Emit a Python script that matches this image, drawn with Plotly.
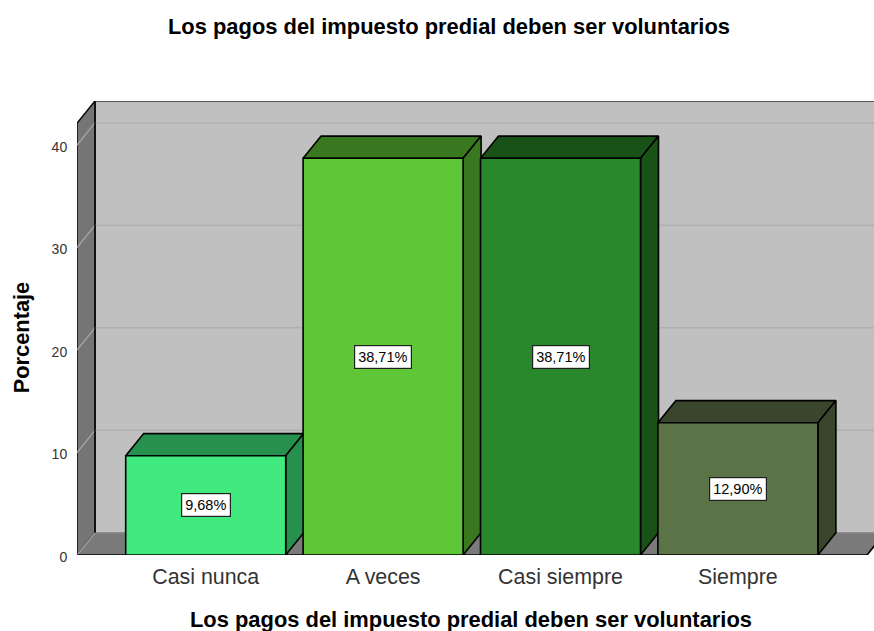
import plotly.graph_objects as go

categories = ["Casi nunca", "A veces", "Casi siempre", "Siempre"]
values = [9.68, 38.71, 38.71, 12.90]
labels = ["9,68%", "38,71%", "38,71%", "12,90%"]
y_ticks = [0, 10, 20, 30, 40]
front_colors = ["#40EA7E", "#5FC637", "#2A882C", "#5C7347"]
dark_colors = ["#26904F", "#3A7820", "#195216", "#39462C"]

TITLE = "Los pagos del impuesto predial deben ser voluntarios"
FONT = "Liberation Sans, Arial, sans-serif"

# plot geometry (canvas pixels -> axis units)
W, H = 874, 631
L, R, T, B = 77, 874, 100.5, 555
PX_X = 177.4          # pixels per category
PX_Y = 10.26          # pixels per percent
X0 = 205.7            # pixel of first category centre
dx = 18 / PX_X        # oblique depth
dy = 22.2 / PX_Y
hw = 80 / PX_X        # half bar width
xmin = (L - X0) / PX_X
xmax = (R - X0) / PX_X
xfront = (867 - X0) / PX_X
ymax = (B - T) / PX_Y
ytop_front = ymax - dy

fig = go.Figure()


def poly(xs, ys, fill, line="#000000", width=1.6):
    fig.add_trace(go.Scatter(
        x=xs + xs[:1], y=ys + ys[:1], mode="lines", fill="toself",
        fillcolor=fill, line=dict(color=line, width=width), cliponaxis=False,
        hoverinfo="skip", showlegend=False))


def seg(xs, ys, color, width=1.5):
    fig.add_trace(go.Scatter(
        x=xs, y=ys, mode="lines", line=dict(color=color, width=width),
        cliponaxis=False, hoverinfo="skip", showlegend=False))


# back wall, side wall, floor
poly([xmin + dx, xfront + dx, xfront + dx, xmin + dx],
     [dy, dy, ymax, ymax], "#C0C0C0", "#303030")
poly([xmin, xmin + dx, xmin + dx, xmin],
     [0, dy, ymax, ytop_front], "#757575", "#101010")
poly([xmin, xfront, xfront + dx, xmin + dx],
     [0, 0, dy, dy], "#7A7A7A", "#7A7A7A", 0.5)

# gridlines
for t in y_ticks:
    seg([xmin, xmin + dx], [t, t + dy], "#A8A8A8", 1.2)
    if t > 0:
        seg([xmin + dx, xfront + dx], [t + dy, t + dy], "#B0B0B0", 1.5)
seg([xmin + dx, xfront + dx], [dy, dy], "#8C8C8C", 1.5)
seg([xmin + dx, xmin + dx], [dy, ymax], "#101010", 1.6)
seg([xmin, xfront], [0, 0], "#000000", 1.6)
seg([xfront, xfront + dx], [0, dy], "#000000", 1.6)

# bars
for i, v in enumerate(values):
    x1, x2 = i - hw, i + hw
    poly([x1, x2, x2 + dx, x1 + dx], [v, v, v + dy, v + dy], dark_colors[i])
    poly([x2, x2 + dx, x2 + dx, x2], [0, dy, v + dy, v], dark_colors[i])
    poly([x1, x2, x2, x1], [0, 0, v, v], front_colors[i])
    fig.add_annotation(
        x=i, y=v / 2, text=labels[i], showarrow=False,
        font=dict(family=FONT, size=14.5, color="#000000"),
        bgcolor="#FFFFFF", bordercolor="#202020", borderwidth=1.2, borderpad=3)

# axis titles
fig.add_annotation(
    xref="paper", yref="paper", x=(471 - L) / (R - L), y=(B - 620) / (B - T),
    text=TITLE, showarrow=False, xanchor="center", yanchor="middle",
    font=dict(family=FONT, size=21.9, color="#000000", weight="bold"))
fig.add_annotation(
    xref="paper", yref="paper", x=(21 - L) / (R - L), y=(B - 338) / (B - T),
    text="Porcentaje", showarrow=False, textangle=-90, xanchor="center", yanchor="middle",
    font=dict(family=FONT, size=21.8, color="#000000", weight="bold"))

fig.update_layout(
    width=W, height=H, autosize=False,
    margin=dict(l=L, r=W - R, t=T, b=H - B),
    paper_bgcolor="#FFFFFF", plot_bgcolor="#FFFFFF",
    showlegend=False,
    font=dict(family=FONT, color="#000000"),
    title=dict(text=TITLE, x=449 / W, xanchor="center", y=1 - 26 / H,
               yanchor="middle", font=dict(family=FONT, size=21.9, color="#000000", weight="bold")),
    xaxis=dict(range=[xmin, xmax], tickvals=list(range(len(categories))),
               ticktext=categories, showgrid=False, zeroline=False, showline=False,
               ticks="outside", ticklen=2, tickcolor="rgba(0,0,0,0)",
               tickfont=dict(family=FONT, size=21.4, color="#333333")),
    yaxis=dict(range=[0, ymax], tickvals=y_ticks, showgrid=False, zeroline=False,
               showline=False, ticks="outside", ticklen=6, tickcolor="rgba(0,0,0,0)",
               ticklabelshift=2,
               tickfont=dict(family=FONT, size=14, color="#333333")),
)

fig.write_html("out.html", config={"displayModeBar": False},
               post_script="document.body.style.margin='0';")
